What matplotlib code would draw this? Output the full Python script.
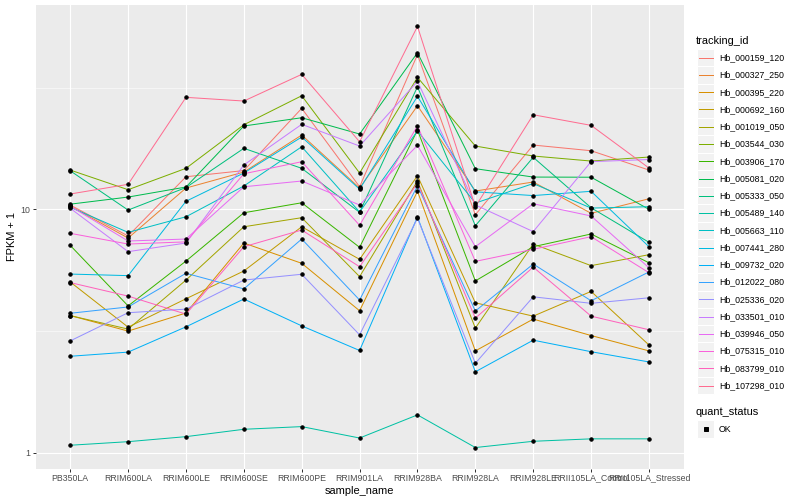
import matplotlib
matplotlib.use("Agg")
import numpy as np
import matplotlib.pyplot as plt
from matplotlib.lines import Line2D
from matplotlib.patches import Rectangle
from matplotlib.ticker import FixedLocator, NullFormatter

plt.rcParams['font.family'] = ['Liberation Sans', 'DejaVu Sans']

samples = ["PB350LA", "RRIM600LA", "RRIM600LE", "RRIM600SE", "RRIM600PE",
           "RRIM901LA", "RRIM928BA", "RRIM928LA", "RRIM928LE",
           "RRII105LA_Control", "RRII105LA_Stressed"]

tracking_ids = ["Hb_000159_120", "Hb_000327_250", "Hb_000395_220", "Hb_000692_160",
                "Hb_001019_050", "Hb_003544_030", "Hb_003906_170", "Hb_005081_020",
                "Hb_005333_050", "Hb_005489_140", "Hb_005663_110", "Hb_007441_280",
                "Hb_009732_020", "Hb_012022_080", "Hb_025336_020", "Hb_033501_010",
                "Hb_039946_050", "Hb_075315_010", "Hb_083799_010", "Hb_107298_010"]

# FPKM + 1, one list per gene, in sample order
hb_000159_120 = [10.42, 7.77, 13.61, 14.43, 26.0, 12.38, 43.2, 9.50, 18.37, 17.41, 14.50]
hb_000327_250 = [10.3, 7.62, 12.23, 14.23, 20.2, 12.23, 26.65, 11.89, 12.95, 9.63, 11.05]
hb_000395_220 = [3.66, 3.16, 3.75, 7.27, 6.00, 3.83, 11.86, 2.62, 3.54, 3.03, 2.62]
hb_000692_160 = [5.03, 3.28, 4.29, 5.58, 8.48, 6.23, 13.74, 4.13, 3.64, 4.60, 2.77]
hb_001019_050 = [3.66, 3.22, 5.12, 8.48, 9.24, 5.29, 13.07, 3.25, 7.20, 5.87, 6.51]
hb_003544_030 = [14.50, 12.04, 14.74, 22.26, 29.29, 14.10, 34.85, 18.20, 16.56, 15.79, 16.40]
hb_003906_170 = [7.11, 4.01, 6.13, 9.68, 10.64, 6.98, 21.17, 5.08, 7.02, 7.92, 6.03]
hb_005081_020 = [10.5, 11.23, 12.35, 22.0, 23.79, 20.39, 44.0, 14.69, 13.57, 13.55, 10.0]
hb_005333_050 = [14.4, 9.93, 12.29, 17.81, 14.74, 9.72, 31.9, 8.56, 16.36, 10.15, 7.32]
hb_005489_140 = [1.073, 1.11, 1.164, 1.248, 1.28, 1.149, 1.43, 1.05, 1.114, 1.14, 1.14]
hb_005663_110 = [10.2, 8.04, 9.32, 12.47, 18.08, 9.75, 21.0, 10.61, 12.76, 10.12, 10.25]
hb_007441_280 = [5.42, 5.34, 10.79, 14.1, 19.82, 12.1, 29.13, 11.8, 11.39, 11.86, 7.02]
hb_009732_020 = [2.49, 2.59, 3.29, 4.28, 3.32, 2.63, 9.30, 2.15, 2.90, 2.60, 2.36]
hb_012022_080 = [3.74, 3.97, 5.46, 4.71, 7.55, 4.24, 12.5, 3.82, 5.96, 4.21, 5.53]
hb_025336_020 = [2.88, 3.76, 3.89, 5.12, 5.41, 3.05, 9.2, 2.33, 4.37, 4.11, 4.33]
hb_033501_010 = [10.1, 6.70, 7.27, 15.21, 22.35, 18.20, 33.56, 10.42, 8.10, 15.7, 16.02]
hb_039946_050 = [10.3, 7.41, 7.55, 12.38, 13.07, 10.42, 18.32, 7.02, 10.54, 9.39, 5.75]
hb_075315_010 = [7.97, 7.20, 7.35, 14.0, 15.69, 8.60, 22.05, 6.11, 6.85, 7.72, 5.49]
hb_083799_010 = [5.0, 4.40, 3.71, 7.02, 8.22, 5.81, 12.82, 3.57, 5.79, 3.64, 3.20]
hb_107298_010 = [11.56, 12.67, 28.85, 27.86, 35.86, 18.95, 56.47, 10.25, 24.47, 22.13, 14.78]

series = [hb_000159_120, hb_000327_250, hb_000395_220, hb_000692_160, hb_001019_050,
          hb_003544_030, hb_003906_170, hb_005081_020, hb_005333_050, hb_005489_140,
          hb_005663_110, hb_007441_280, hb_009732_020, hb_012022_080, hb_025336_020,
          hb_033501_010, hb_039946_050, hb_075315_010, hb_083799_010, hb_107298_010]

# ggplot2 default hue palette for 20 levels
colors = ["#F8766D", "#EA8331", "#D89000", "#C09B00", "#A3A500", "#7CAE00", "#39B600",
          "#00BB4E", "#00BF7D", "#00C1A3", "#00BFC4", "#00BAE0", "#00B0F6", "#35A2FF",
          "#9590FF", "#C77CFF", "#E76BF3", "#FA62DB", "#FF62BC", "#FF6C90"]

W, H = 800, 500
fig = plt.figure(figsize=(W / 72, H / 72), dpi=72)
left, right, top, bottom = 35.5, 683.7, 5.3, 468.6
ax = fig.add_axes([left / W, 1 - bottom / H, (right - left) / W, (bottom - top) / H])
ax.set_facecolor('#EBEBEB')

x = np.arange(len(samples))
for vals, col in zip(series, colors):
    ax.plot(x, vals, color=col, lw=1.0, zorder=2)
for vals in series:
    ax.plot(x, vals, ls='none', marker='o', ms=3.4, color='black', zorder=3)

ax.set_yscale('log')
allv = np.log10(np.concatenate([np.array(s) for s in series]))
pad = 0.05 * (allv.max() - allv.min())
ax.set_ylim(10 ** (allv.min() - pad), 10 ** (allv.max() + pad))
ax.set_xlim(-0.6, len(samples) - 1 + 0.6)

ax.set_yticks([1, 10])
ax.set_yticklabels(['1', '10'])
ax.yaxis.set_minor_locator(FixedLocator([10 ** 0.5, 10 ** 1.5]))
ax.yaxis.set_minor_formatter(NullFormatter())
ax.set_xticks(x)
ax.set_xticklabels(samples)

ax.grid(which='major', color='white', lw=1.1)
ax.grid(which='minor', axis='y', color='white', lw=0.55)
ax.set_axisbelow(True)
for sp in ax.spines.values():
    sp.set_visible(False)
ax.tick_params(which='major', length=2.75, width=1.0, color='#333333',
               labelcolor='#4D4D4D', labelsize=8.8, pad=2.2)
ax.tick_params(which='minor', length=0)
ax.set_xlabel('sample_name', fontsize=11, labelpad=3)
ax.set_ylabel('FPKM + 1', fontsize=11, labelpad=4)


def fx(px):
    return px / W


def fy(py):
    return 1 - py / H


# legend: tracking_id
fig.text(fx(696), fy(40.7), 'tracking_id', fontsize=11, va='center', ha='left')
key = 17.28
for i, (name, col) in enumerate(zip(tracking_ids, colors)):
    cy = 57.7 + i * 17.26
    fig.add_artist(Rectangle((fx(697), fy(cy + key / 2)), key / W, key / H,
                             facecolor='#F2F2F2', edgecolor='white', lw=1,
                             transform=fig.transFigure))
    fig.add_artist(Line2D([fx(698.7), fx(697 + key - 1.7)], [fy(cy), fy(cy)],
                          color=col, lw=1.0, transform=fig.transFigure))
    fig.text(fx(719), fy(cy), name, fontsize=8.8, va='center', ha='left')

# legend: quant_status
fig.text(fx(696), fy(411.7), 'quant_status', fontsize=11, va='center', ha='left')
cy = 429
fig.add_artist(Rectangle((fx(697), fy(cy + key / 2)), key / W, key / H,
                         facecolor='#F2F2F2', edgecolor='white', lw=1,
                         transform=fig.transFigure))
fig.add_artist(Line2D([fx(697 + key / 2)], [fy(cy)], ls='none', marker='s', ms=3.4,
                      color='black', transform=fig.transFigure))
fig.text(fx(719), fy(cy), 'OK', fontsize=8.8, va='center', ha='left')

fig.savefig('out.png', dpi=72)
